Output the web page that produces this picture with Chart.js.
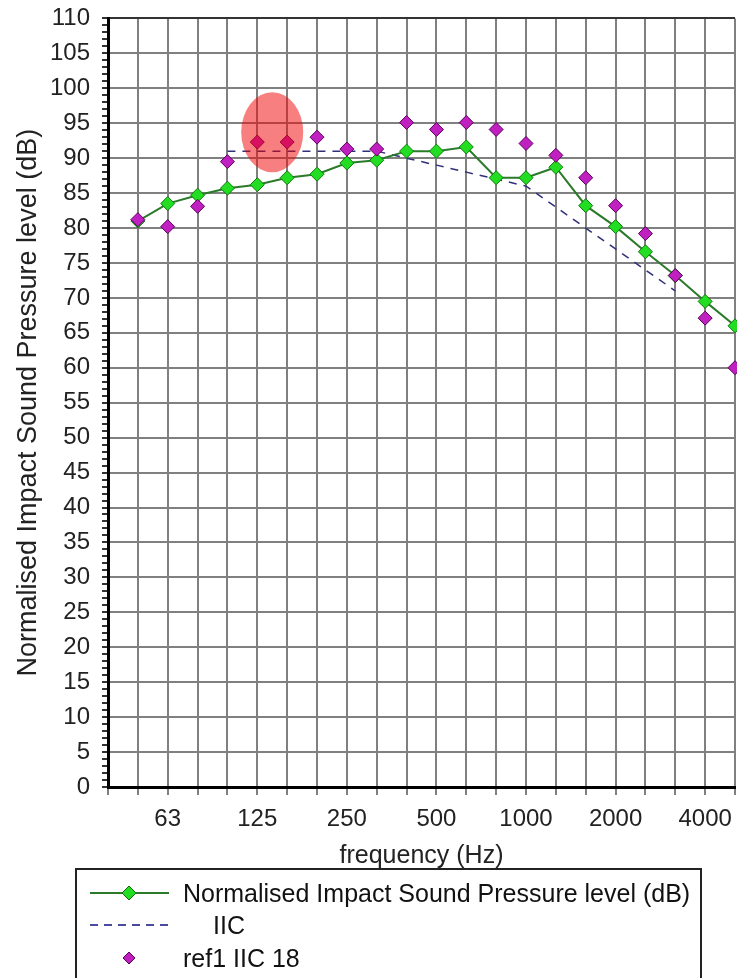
<!DOCTYPE html>
<html lang="en">
<head>
    <meta charset="UTF-8">
    <title>Impact Sound</title>
    <script src="https://cdn.jsdelivr.net/npm/chart.js"></script>
    <style>
        body {
            margin: 0; padding: 0;
            background: white;
            font-family: 'Liberation Sans', Arial, sans-serif;
            overflow: hidden;
        }
        #wrap { position: relative; width: 737px; height: 978px; overflow: hidden; }
        #chart { position: absolute; left: 0; top: -8px; }
        .legend {
            position: absolute;
            left: 75px; top: 868px;
            width: 627px; height: 140px;
            box-sizing: border-box;
            border: 2px solid #222;
            font-size: 25px;
            color: #111;
        }
        .legend .row { position: absolute; left: 0; height: 32px; line-height: 32px; white-space: nowrap; }
        .legend svg { position: absolute; left: 12px; top: 0; }
        .legend span { position: absolute; left: 106px; }
    </style>
</head>
<body>
<div id="wrap">
    <canvas id="chart" width="745" height="879"></canvas>
    <div class="legend">
        <div class="row" style="top:7px">
            <svg width="82" height="32"><line x1="1" y1="16" x2="80" y2="16" stroke="#2a7a2a" stroke-width="2"/><polygon points="40,9 47,16 40,23 33,16" fill="#22dd22" stroke="#0a6a0a" stroke-width="1"/></svg>
            <span>Normalised Impact Sound Pressure level (dB)</span>
        </div>
        <div class="row" style="top:39px">
            <svg width="82" height="32"><line x1="1" y1="16" x2="80" y2="16" stroke="#4a4aa0" stroke-width="2" stroke-dasharray="8,6"/></svg>
            <span style="left:136px">IIC</span>
        </div>
        <div class="row" style="top:72px">
            <svg width="82" height="32"><polygon points="40,10 46,16 40,22 34,16" fill="#c020c0" stroke="#5a005a" stroke-width="1"/></svg>
            <span>ref1 IIC 18</span>
        </div>
    </div>
</div>

<script>
    // third-octave bands, only the octave ones get a label
    const bands = ['50', '63', '80', '100', '125', '160', '200', '250', '315', '400', '500',
                   '630', '800', '1000', '1250', '1600', '2000', '2500', '3150', '4000', '5000'];
    const shownLabels = ['63', '125', '250', '500', '1000', '2000', '4000'];

    const measured = [81, 83.5, 84.7, 85.7, 86.2, 87.2, 87.7, 89.3, 89.7, 91, 91,
                      91.6, 87.2, 87.2, 88.7, 83.2, 80.2, 76.6, 73.2, 69.5, 66];
    const iicCurve = [null, null, null, 91, 91, 91, 91, 91, 91, 90, 89,
                      88, 87, 86, 83, 80, 77, 74, 71, null, null];
    const ref1 = [81.2, 80.2, 83.1, 89.5, 92.3, 92.3, 93, 91.3, 91.3, 95.1, 94.1,
                  95.1, 94.1, 92.1, 90.4, 87.2, 83.2, 79.2, 73.2, 67.1, 60];

    const toXY = arr => arr.map((v, i) => ({ x: i, y: v }));

    // red marker blob drawn over the 125/160 Hz points
    const highlight = {
        id: 'highlight',
        afterDatasetsDraw(chart) {
            const { ctx, scales } = chart;
            ctx.save();
            ctx.beginPath();
            ctx.ellipse(scales.x.getPixelForValue(4.5), scales.y.getPixelForValue(93.7), 31, 40, 0, 0, Math.PI * 2);
            ctx.fillStyle = 'rgba(240, 0, 0, 0.5)';
            ctx.fill();
            ctx.restore();
        }
    };

    new Chart(document.getElementById('chart').getContext('2d'), {
        type: 'line',
        data: {
            datasets: [
                {
                    label: 'ref1 IIC 18',
                    data: toXY(ref1),
                    showLine: false,
                    pointStyle: 'rectRot',
                    pointRadius: 7,
                    pointBackgroundColor: '#c020c0',
                    pointBorderColor: '#5a005a',
                    pointBorderWidth: 1,
                    clip: false,
                    order: 0
                },
                {
                    label: 'Normalised Impact Sound Pressure level (dB)',
                    data: toXY(measured),
                    borderColor: '#2a7a2a',
                    borderWidth: 2,
                    pointStyle: 'rectRot',
                    pointRadius: 7,
                    pointBackgroundColor: '#22dd22',
                    pointBorderColor: '#0a7a0a',
                    pointBorderWidth: 1,
                    tension: 0,
                    clip: false,
                    order: 1
                },
                {
                    label: 'IIC',
                    data: toXY(iicCurve),
                    borderColor: '#30307a',
                    borderWidth: 1.5,
                    borderDash: [8, 7],
                    pointRadius: 0,
                    spanGaps: false,
                    order: 2
                }
            ]
        },
        options: {
            responsive: false,
            animation: false,
            layout: { padding: { top: 9, right: 0, left: 0, bottom: 0 } },
            plugins: {
                legend: { display: false },
                tooltip: { enabled: false }
            },
            scales: {
                x: {
                    type: 'linear',
                    min: -1,
                    max: 20,
                    afterFit: s => { s.height = 84; },
                    border: { color: '#000', width: 3 },
                    grid: { color: '#808080', lineWidth: 2, tickLength: 8, tickColor: '#808080' },
                    ticks: {
                        stepSize: 1,
                        autoSkip: false,
                        maxRotation: 0,
                        padding: 10,
                        color: '#222',
                        font: { family: 'Liberation Sans', size: 24 },
                        callback: v => shownLabels.includes(bands[v]) ? bands[v] : ''
                    },
                    title: {
                        display: true,
                        text: 'frequency (Hz)',
                        color: '#222',
                        padding: { top: 0, bottom: 0 },
                        font: { family: 'Liberation Sans', size: 25 }
                    }
                },
                y: {
                    min: 0,
                    max: 110,
                    afterFit: s => { s.width = 108; },
                    border: { color: '#000', width: 3 },
                    grid: {
                        lineWidth: 2,
                        tickLength: 6,
                        tickColor: '#333',
                        color: c => c.tick.value % 5 !== 0 ? 'rgba(0,0,0,0)' : (c.tick.value === 110 ? '#333' : '#808080')
                    },
                    ticks: {
                        stepSize: 1,
                        autoSkip: false,
                        padding: 12,
                        color: '#222',
                        font: { family: 'Liberation Sans', size: 24 },
                        callback: v => v % 5 === 0 ? String(v) : ''
                    },
                    title: {
                        display: true,
                        text: 'Normalised Impact Sound Pressure level (dB)',
                        color: '#222',
                        padding: { top: 12, bottom: 0 },
                        font: { family: 'Liberation Sans', size: 27 }
                    }
                }
            }
        },
        plugins: [highlight]
    });
</script>
</body>
</html>
